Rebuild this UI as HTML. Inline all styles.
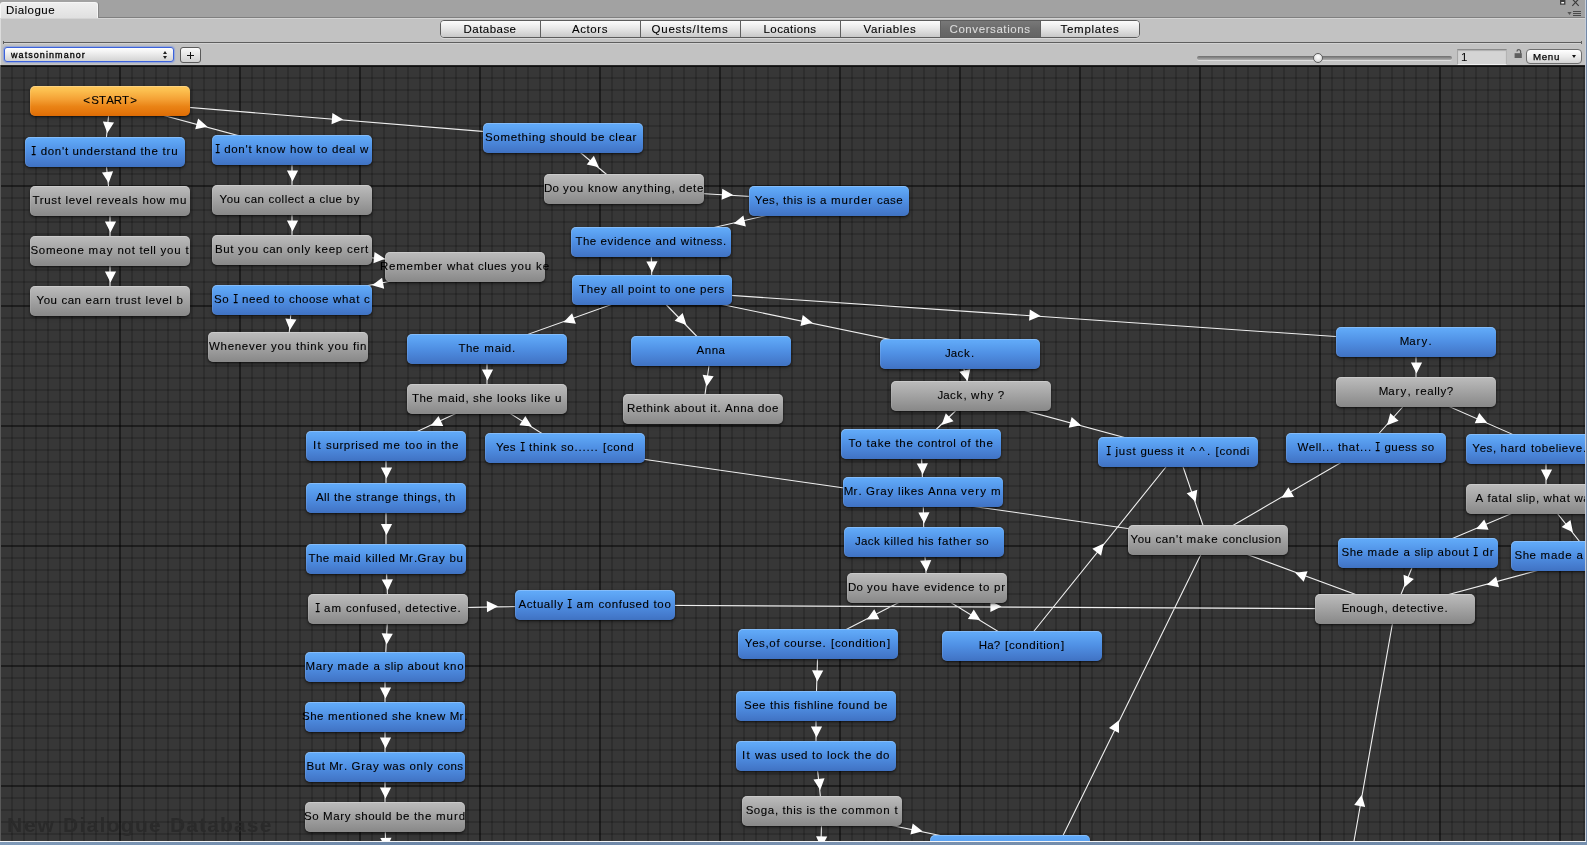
<!DOCTYPE html>
<html lang="en">
<head>
<meta charset="utf-8">
<title>Dialogue</title>
<style>
html,body{margin:0;padding:0}
body{width:1587px;height:845px;overflow:hidden;position:relative;background:#a2a2a2;
 font-family:"Liberation Sans",sans-serif;font-size:11.5px;color:#000}
*{box-sizing:border-box}
.abs{position:absolute}
#root{position:absolute;left:0;top:0;width:1587px;height:845px;overflow:hidden;will-change:transform}

/* ---- dock strip + window tab ---- */
#strip{position:absolute;left:0;top:0;width:1585px;height:18px;background:#a2a2a2;border-bottom:1px solid #808080}
#wtab{position:absolute;left:0;top:2px;width:98px;height:16px;border-radius:3px 3px 0 0;
 background:linear-gradient(#eeeeee,#e0e0e0);border:1px solid #f6f6f6;border-bottom:none;box-shadow:1px 0 0 #868686}
#wtab span{position:absolute;left:5px;top:-1px;line-height:16px;color:#000;-webkit-text-stroke:.1px #000}

/* ---- pane toolbar ---- */
#pane{position:absolute;left:0;top:18px;width:1585px;height:47px;background:#c2c2c2;border-top:1px solid #d4d4d4;border-left:1px solid #dcdcdc}
#sep{position:absolute;left:3px;top:42px;width:1579px;height:1px;background:#5e5e5e}
#sep:before,#sep:after{content:"";position:absolute;top:-1px;width:1px;height:3px;background:#5e5e5e;z-index:2}
#sep:before{left:0}#sep:after{right:0}
#sep2{position:absolute;left:3px;top:43px;width:1579px;height:1px;background:#d2d2d2}

/* top tabs */
#tabs{position:absolute;left:440px;top:20px;width:700px;height:18px;border:1px solid #5c5c5c;border-radius:4px;overflow:hidden;
 background:#e4e4e4;box-shadow:0 1px 0 rgba(255,255,255,.35)}
#tabs div{position:absolute;top:0;width:100px;height:16px;border-left:1px solid #606060;
 background:linear-gradient(#fcfcfc,#e8e8e8 45%,#c9c9c9);text-align:center}
#tabs div:first-child{border-left:none}
#tabs div span{position:absolute;top:1px;line-height:14px;white-space:nowrap;-webkit-text-stroke:.1px currentColor}
#tabs div.sel{background:linear-gradient(#787878,#6b6b6b 50%,#646464);color:#dcdcdc}

/* dropdown */
#dd{position:absolute;left:4px;top:47px;width:170px;height:15px;border:1px solid #3c62dc;border-radius:3px;
 background:linear-gradient(#ffffff,#ececec 45%,#d3d3d3);box-shadow:0 0 1px 1px rgba(90,130,240,.45)}
#dd span{position:absolute;left:6px;top:1px;line-height:13px;font-size:9px;white-space:nowrap;-webkit-text-stroke:.3px #000}
#dd i{position:absolute;left:158px;width:0;height:0;border-left:2px solid transparent;border-right:2px solid transparent}
#dd i.u{top:3px;border-bottom:3px solid #222}
#dd i.d{top:8px;border-top:3px solid #222}
#plus{position:absolute;left:180px;top:47px;width:21px;height:16px;border:1px solid #5a5a5a;border-radius:3px;
 background:linear-gradient(#fafafa,#e6e6e6 50%,#cfcfcf)}
#plus:before,#plus:after{content:"";position:absolute;background:#111}
#plus:before{left:6px;top:7px;width:7px;height:1px}
#plus:after{left:9px;top:4px;width:1px;height:7px}

/* slider etc */
#track{position:absolute;left:1197px;top:56px;width:255px;height:4px;border-radius:2px;
 background:linear-gradient(#6e6e6e,#8c8c8c 50%,#b0b0b0);box-shadow:0 1px 0 rgba(255,255,255,.45)}
#thumb{position:absolute;left:1313px;top:53px;width:10px;height:10px;border-radius:50%;border:1px solid #5c5c5c;
 background:radial-gradient(circle at 50% 35%,#ffffff,#e2e2e2 60%,#c4c4c4)}
#field{position:absolute;left:1457px;top:49px;width:50px;height:16px;background:#d4d4d4;
 border:1px solid;border-color:#8a8a8a #b4b4b4 #efefef #a6a6a6;box-shadow:inset 0 1px 1px rgba(0,0,0,.18)}
#field span{position:absolute;left:3px;top:1px;line-height:12px}
#lock{position:absolute;left:1514px;top:49px;width:9px;height:10px}
#menu{position:absolute;left:1526px;top:49px;width:56px;height:15px;border:1px solid #6e6e6e;border-radius:4px;
 background:linear-gradient(#ffffff,#ececec 50%,#d2d2d2)}
#menu span{position:absolute;left:6px;top:0;line-height:13px;font-size:9.75px;-webkit-text-stroke:.25px #000}
#menu i{position:absolute;left:45px;top:5px;width:0;height:0;border-left:2px solid transparent;border-right:2px solid transparent;border-top:3px solid #111}

/* ---- canvas ---- */
#canvas{position:absolute;left:0;top:65px;width:1585px;height:776px;overflow:hidden;background-color:#373737;
 background-image:
  linear-gradient(to right,rgba(0,0,0,.38) 2px,transparent 2px),
  linear-gradient(to bottom,rgba(0,0,0,.38) 2px,transparent 2px),
  linear-gradient(to right,rgba(0,0,0,.17) 2px,transparent 2px),
  linear-gradient(to bottom,rgba(0,0,0,.17) 2px,transparent 2px);
 background-size:120px 120px,120px 120px,12px 12px,12px 12px;
 background-position:-1px 0,0 0,-1px 0,0 0}
#ctop{position:absolute;left:0;top:0;width:1585px;height:2px;background:linear-gradient(#262626 50%,#0f0f0f 50%)}
#cleft{position:absolute;left:0;top:0;width:1px;height:776px;background:#5a5a5a}
#wm{position:absolute;left:0;top:748px;font-size:21px;font-weight:bold;line-height:24px;white-space:nowrap;color:#2a2a2a}
#wm span{position:absolute;top:0}
svg.links{position:absolute;left:0;top:0}
.ln{fill:none;stroke:#fff;stroke-width:1.1;stroke-opacity:.92}
.ar{fill:#fff;stroke:none}
.n{position:absolute;width:160px;height:30px;border-radius:5px;white-space:nowrap;box-shadow:0 1px 2px rgba(0,0,0,.55),0 2px 4px rgba(0,0,0,.25),inset 0 1px 0 rgba(255,255,255,.22),inset 1px 0 0 rgba(255,255,255,.1)}
.n span{position:absolute;top:0;line-height:28px;white-space:nowrap;-webkit-text-stroke:.1px #000}
.n span.I{font-family:"Liberation Mono",monospace;font-size:12.5px;top:1px;transform:scaleX(.72);-webkit-text-stroke:.25px #000}
.b{background:linear-gradient(#62abfa 0,#5ea6f5 12%,#4f8fe3 50%,#4479cb 88%,#3f72c2 100%)}
.g{background:linear-gradient(#bcbcbc 0,#b6b6b6 12%,#a2a2a2 50%,#8e8e8e 88%,#888888 100%)}
.o{background:linear-gradient(#fec85c 0,#fcc050 14%,#f4a034 45%,#ea8416 68%,#e3740a 90%,#dd6c06 100%)}

/* ---- os window frame ---- */
#fr{position:absolute;left:1585px;top:0;width:2px;height:845px;background:linear-gradient(to right,#c6ced9 0,#c6ced9 1px,#7288a6 1px)}
#fb{position:absolute;left:0;top:841px;width:1587px;height:4px;background:linear-gradient(to right,#7f9ab8,#6a84a5 30%,#7b93b1 55%,#6c86a6 80%,#7690ae)}
#fb:before{content:"";position:absolute;left:0;top:0;width:1586px;height:1px;background:#f4f6f8}
</style>
</head>
<body>
<div id="root">
<div id="strip"></div>
<div id="wtab"><span style="letter-spacing:0.45px">Dialogue</span></div>
<svg class="abs" style="left:1558px;top:0" width="27" height="18" viewBox="0 0 27 18">
 <rect x="2" y="-1" width="5.4" height="5.7" fill="#3e3e3e"/>
 <rect x="3.3" y="2" width="2.8" height="1.5" fill="#f4f4f4"/>
 <path d="M14.3 -1L20.7 5.8M20.7 -1L14.3 5.8" stroke="#3a3a3a" stroke-width="1.1" fill="none"/>
 <path d="M9.4 12h4.2l-2.1 3z" fill="#555"/>
 <path d="M15 11.5h8M15 13.5h8M15 15.5h8" stroke="#4a4a4a" stroke-width="1"/>
</svg>

<div id="pane"></div>
<div id="tabs">
<div style="left:0px"><span style="left:22.5px;letter-spacing:0.47px">Database</span></div>
<div style="left:99px"><span style="left:31px;letter-spacing:0.57px">Actors</span></div>
<div style="left:199px"><span style="left:10.5px;letter-spacing:0.77px">Quests/Items</span></div>
<div style="left:299px"><span style="left:22.5px;letter-spacing:0.42px">Locations</span></div>
<div style="left:399px"><span style="left:22.5px;letter-spacing:0.66px">Variables</span></div>
<div style="left:499px" class="sel"><span style="left:8.5px;letter-spacing:0.58px">Conversations</span></div>
<div style="left:599px"><span style="left:19.5px;letter-spacing:0.73px">Templates</span></div>
</div>
<div id="sep"></div><div id="sep2"></div>

<div id="dd"><span style="letter-spacing:1.07px">watsoninmanor</span><i class="u"></i><i class="d"></i></div>
<div id="plus"></div>

<div id="track"></div><div id="thumb"></div>
<div id="field"><span>1</span></div>
<svg id="lock" viewBox="0 0 9 10"><path d="M6.6 4.4V2.6C6.6 1.2 5.7 0.7 4.8 0.7S3 1.2 3 2.5" fill="none" stroke="#5a5a5a" stroke-width="1.25"/><rect x="0.6" y="4.2" width="7.2" height="4.8" fill="#5f5f5f"/></svg>
<div id="menu"><span style="letter-spacing:0.65px">Menu</span><i></i></div>

<div id="canvas">
<svg class="links" width="1585" height="776" viewBox="0 0 1585 776"><path class="ln" d="M110 36L105 87M110 36L292 85M110 36L563 73M105 87L110 136M110 136L110 186M110 186L110 236M292 85L292 135M292 135L292 185M292 185L465 202M465 202L292 235M292 235L288 282M563 73L624 124M624 124L829 136M829 136L651 177M651 177L652 225M652 225L487 284M652 225L711 286M652 225L960 289M652 225L1416 277M487 284L487 334M487 334L386 381M487 334L565 383M386 381L386 433M386 433L386 494M386 494L388 544M388 544L595 540M388 544L385 602M385 602L385 652M385 652L385 702M385 702L385 752M385 752L386 803M711 286L703 344M960 289L971 331M971 331L921 379M971 331L1178 387M921 379L923 427M923 427L924 477M924 477L927 523M927 523L818 579M927 523L1022 581M818 579L816 641M816 641L816 691M816 691L822 746M822 746L820 806M822 746L1010 785M565 383L1208 475M1178 387L1208 475M1366 383L1208 475M1416 277L1416 327M1416 327L1366 383M1416 327L1546 384M1546 384L1546 434M1546 434L1418 488M1546 434L1591 491M1418 488L1395 544M1591 491L1395 544M1395 544L1208 475M595 540L1395 544M1022 581L1178 387M1025 848L1208 475M1327 929L1395 544"/><path class="ar" d="M107.35 68.12L102.87 56.42L114.02 57.52ZM207.5 61.73L195.23 64.23L198.14 53.41ZM343.12 54.54L331.5 59.21L332.41 48.05ZM108.67 118.02L101.96 107.44L113.1 106.3ZM110.5 167.6L104.9 156.4L116.1 156.4ZM110.5 217.6L104.9 206.4L116.1 206.4ZM292.5 116.6L286.9 105.4L298.1 105.4ZM292.5 166.6L286.9 155.4L298.1 155.4ZM385.12 193.65L373.42 198.13L374.52 186.98ZM372.11 220.23L382.06 212.63L384.16 223.63ZM289.94 265.12L285.31 253.48L296.47 254.43ZM598.88 102.35L586.7 99.46L593.88 90.87ZM733.12 129.89L721.61 134.82L722.26 123.64ZM733.68 158.47L743.34 150.5L745.85 161.41ZM652.14 207.59L646.31 196.51L657.5 196.27ZM563.45 257.19L572.11 248.15L575.89 258.7ZM686.45 259.9L674.64 255.74L682.69 247.95ZM812.56 257.85L800.46 261.06L802.74 250.09ZM1040.62 250.95L1029.06 255.78L1029.82 244.6ZM487.5 315.6L481.9 304.4L493.1 304.4ZM430.73 360.74L438.52 350.94L443.24 361.09ZM531.85 361.59L519.39 360.37L525.35 350.89ZM386.5 413.6L380.9 402.4L392.1 402.4ZM386.5 470.1L380.9 458.9L392.1 458.9ZM387.76 525.57L381.72 514.61L392.91 514.16ZM498.09 541.37L487 547.19L486.78 535.99ZM386.66 579.62L381.64 568.14L392.83 568.72ZM385.5 633.6L379.9 622.4L391.1 622.4ZM385.5 683.6L379.9 672.4L391.1 672.4ZM385.5 733.6L379.9 722.4L391.1 722.4ZM386.13 784.09L380.31 773L391.51 772.78ZM706.59 321.61L702.58 309.75L713.67 311.28ZM967.66 316.26L959.4 306.84L970.24 304ZM941.59 359.93L945.79 348.14L953.54 356.21ZM1081 360.24L1068.73 362.72L1071.65 351.91ZM922.77 409.57L916.71 398.62L927.9 398.15ZM924.13 458.59L918.31 447.5L929.51 447.28ZM926.43 506.55L920.11 495.74L931.29 495.01ZM866.86 554.46L874.26 544.36L879.38 554.32ZM980.39 555.01L967.92 553.96L973.75 544.4ZM817.29 616.61L812.05 605.24L823.25 605.6ZM816.5 672.6L810.9 661.4L822.1 661.4ZM820.21 725.01L813.43 714.48L824.57 713.27ZM821.28 782.61L816.06 771.23L827.25 771.61ZM922.56 766.35L910.46 769.56L912.73 758.59ZM893.1 429.44L881.22 433.4L882.81 422.31ZM1195.6 437.09L1186.69 428.29L1197.29 424.68ZM1281.55 432.75L1288.41 422.28L1294.04 431.96ZM1416.5 308.6L1410.9 297.4L1422.1 297.4ZM1386.98 360.26L1390.26 348.17L1398.61 355.63ZM1487.25 357.69L1474.74 358.32L1479.24 348.07ZM1546.5 415.6L1540.9 404.4L1552.1 404.4ZM1476.11 464.03L1484.26 454.51L1488.61 464.83ZM1572.98 467.37L1561.65 462.05L1570.44 455.11ZM1404.46 522.3L1403.53 509.81L1413.89 514.06ZM1486.76 519.71L1496.11 511.38L1499.03 522.19ZM1295.13 507.68L1307.58 506.31L1303.7 516.82ZM1001.6 541.53L990.37 547.08L990.43 535.88ZM1103.75 478.54L1101.09 490.78L1092.36 483.76ZM1118.96 655.35L1119.05 667.88L1109 662.94ZM1361.66 729.91L1365.22 741.92L1354.19 739.97Z"/></svg>
<div id="wm"><span style="left:7px;letter-spacing:1.77px">New</span><span style="left:63px;letter-spacing:1.29px">Dialogue</span><span style="left:170px;letter-spacing:1.14px">Database</span></div>
<div class="n o" style="left:30px;top:21px"><span style="left:53.14px">&lt;</span> <span style="left:61.16px">S</span> <span style="left:68.98px">T</span> <span style="left:76.16px">A</span> <span style="left:83.84px">R</span> <span style="left:91.98px">T</span> <span style="left:100.14px">&gt;</span></div>
<div class="n b" style="left:25px;top:72px"><span class="I" style="left:5.25px">I</span> <span style="left:15.8px">d</span> <span style="left:22.8px">o</span> <span style="left:29.8px">n</span> <span style="left:36.9px">'</span> <span style="left:39.9px">t</span> <span style="left:47.5px;letter-spacing:0.65px">understand</span> <span style="left:115.5px;letter-spacing:0.67px">the</span> <span style="left:137.5px;letter-spacing:0.86px">tru</span></div>
<div class="n g" style="left:30px;top:121px"><span style="left:2.5px;letter-spacing:0.64px">Trust</span> <span style="left:35.5px;letter-spacing:0.67px">level</span> <span style="left:66.5px;letter-spacing:0.7px">reveals</span> <span style="left:112.5px;letter-spacing:0.63px">how</span> <span style="left:139.5px;letter-spacing:1.01px">mu</span></div>
<div class="n g" style="left:30px;top:171px"><span style="left:0.5px;letter-spacing:0.68px">Someone</span> <span style="left:58.5px;letter-spacing:1.09px">may</span> <span style="left:87.5px;letter-spacing:0.67px">not</span> <span style="left:109.5px;letter-spacing:0.57px">tell</span> <span style="left:130.5px;letter-spacing:0.82px">you</span> <span style="left:155.5px;letter-spacing:0.8px">t</span></div>
<div class="n g" style="left:30px;top:221px"><span style="left:6.5px;letter-spacing:0.53px">You</span> <span style="left:31.5px;letter-spacing:0.48px">can</span> <span style="left:55.5px;letter-spacing:0.74px">earn</span> <span style="left:85.5px;letter-spacing:0.72px">trust</span> <span style="left:115.5px;letter-spacing:0.67px">level</span> <span style="left:146.5px;letter-spacing:0.59px">b</span></div>
<div class="n b" style="left:212px;top:70px"><span class="I" style="left:1.75px">I</span> <span style="left:12.3px">d</span> <span style="left:19.3px">o</span> <span style="left:26.3px">n</span> <span style="left:33.4px">'</span> <span style="left:36.4px">t</span> <span style="left:44px;letter-spacing:0.79px">know</span> <span style="left:78px;letter-spacing:0.63px">how</span> <span style="left:105px;letter-spacing:0.7px">to</span> <span style="left:120px;letter-spacing:0.56px">deal</span> <span style="left:148px;letter-spacing:0.69px">w</span></div>
<div class="n g" style="left:212px;top:120px"><span style="left:7.5px;letter-spacing:0.53px">You</span> <span style="left:32.5px;letter-spacing:0.48px">can</span> <span style="left:56.5px;letter-spacing:0.48px">collect</span> <span style="left:96.5px;letter-spacing:0.59px">a</span> <span style="left:107.5px;letter-spacing:0.47px">clue</span> <span style="left:134.5px;letter-spacing:0.92px">by</span></div>
<div class="n g" style="left:212px;top:170px"><span style="left:3px;letter-spacing:0.58px">But</span> <span style="left:26px;letter-spacing:0.82px">you</span> <span style="left:51px;letter-spacing:0.48px">can</span> <span style="left:75px;letter-spacing:0.72px">only</span> <span style="left:103px;letter-spacing:0.77px">keep</span> <span style="left:135px;letter-spacing:0.71px">cert</span></div>
<div class="n b" style="left:212px;top:220px"><span style="left:2px;letter-spacing:0.46px">So</span> <span class="I" style="left:19.75px">I</span> <span style="left:30px;letter-spacing:0.6px">need</span> <span style="left:62px;letter-spacing:0.7px">to</span> <span style="left:77px;letter-spacing:0.48px">choose</span> <span style="left:121px;letter-spacing:0.68px">what</span> <span style="left:152px;letter-spacing:0.25px">c</span></div>
<div class="n g" style="left:208px;top:267px"><span style="left:1px;letter-spacing:0.7px">Whenever</span> <span style="left:63px;letter-spacing:0.82px">you</span> <span style="left:88px;letter-spacing:0.74px">think</span> <span style="left:120px;letter-spacing:0.82px">you</span> <span style="left:145px;letter-spacing:0.61px">fin</span></div>
<div class="n g" style="left:385px;top:187px"><span style="left:-5px;letter-spacing:0.76px">Remember</span> <span style="left:62px;letter-spacing:0.68px">what</span> <span style="left:93px;letter-spacing:0.43px">clues</span> <span style="left:126px;letter-spacing:0.82px">you</span> <span style="left:151px;letter-spacing:0.92px">ke</span></div>
<div class="n b" style="left:483px;top:58px"><span style="left:2px;letter-spacing:0.67px">Something</span> <span style="left:67px;letter-spacing:0.52px">should</span> <span style="left:108px;letter-spacing:0.6px">be</span> <span style="left:126px;letter-spacing:0.61px">clear</span></div>
<div class="n g" style="left:544px;top:109px"><span style="left:0px;letter-spacing:0.15px">Do</span> <span style="left:19px;letter-spacing:0.82px">you</span> <span style="left:44px;letter-spacing:0.79px">know</span> <span style="left:78.3px">a</span> <span style="left:85.3px">n</span> <span style="left:92.62px">y</span> <span style="left:99.4px">t</span> <span style="left:103.3px">h</span> <span style="left:110.22px">i</span> <span style="left:113.3px">n</span> <span style="left:120.3px">g</span> <span style="left:127.4px">,</span> <span style="left:135px;letter-spacing:0.65px">dete</span></div>
<div class="n b" style="left:749px;top:121px"><span style="left:5.66px">Y</span> <span style="left:13.3px">e</span> <span style="left:20.12px">s</span> <span style="left:26.4px">,</span> <span style="left:34px;letter-spacing:0.52px">this</span> <span style="left:58px;letter-spacing:0.34px">is</span> <span style="left:71px;letter-spacing:0.59px">a</span> <span style="left:82px;letter-spacing:0.93px">murder</span> <span style="left:128px;letter-spacing:0.43px">case</span></div>
<div class="n b" style="left:571px;top:162px"><span style="left:4.5px;letter-spacing:0.39px">The</span> <span style="left:29.5px;letter-spacing:0.62px">evidence</span> <span style="left:84.5px;letter-spacing:0.6px">and</span> <span style="left:109.84px">w</span> <span style="left:118.72px">i</span> <span style="left:121.9px">t</span> <span style="left:125.8px">n</span> <span style="left:132.8px">e</span> <span style="left:139.62px">s</span> <span style="left:145.62px">s</span> <span style="left:151.9px">.</span></div>
<div class="n b" style="left:572px;top:210px"><span style="left:7px;letter-spacing:0.61px">They</span> <span style="left:39px;letter-spacing:0.49px">all</span> <span style="left:56px;letter-spacing:0.61px">point</span> <span style="left:88px;letter-spacing:0.7px">to</span> <span style="left:103px;letter-spacing:0.6px">one</span> <span style="left:128px;letter-spacing:0.66px">pers</span></div>
<div class="n b" style="left:407px;top:269px"><span style="left:51.5px;letter-spacing:0.39px">The</span> <span style="left:77.2px">m</span> <span style="left:87.8px">a</span> <span style="left:94.72px">i</span> <span style="left:97.8px">d</span> <span style="left:104.9px">.</span></div>
<div class="n b" style="left:631px;top:271px"><span style="left:65.5px;letter-spacing:0.54px">Anna</span></div>
<div class="n b" style="left:880px;top:274px"><span style="left:65.12px">J</span> <span style="left:70.8px">a</span> <span style="left:77.62px">c</span> <span style="left:84.12px">k</span> <span style="left:90.9px">.</span></div>
<div class="n b" style="left:1336px;top:262px"><span style="left:63.7px">M</span> <span style="left:73.3px">a</span> <span style="left:80.58px">r</span> <span style="left:85.62px">y</span> <span style="left:92.4px">.</span></div>
<div class="n g" style="left:407px;top:319px"><span style="left:5px;letter-spacing:0.39px">The</span> <span style="left:30.7px">m</span> <span style="left:41.3px">a</span> <span style="left:48.22px">i</span> <span style="left:51.3px">d</span> <span style="left:58.4px">,</span> <span style="left:66px;letter-spacing:0.48px">she</span> <span style="left:90px;letter-spacing:0.63px">looks</span> <span style="left:124px;letter-spacing:0.68px">like</span> <span style="left:148px;letter-spacing:0.59px">u</span></div>
<div class="n b" style="left:306px;top:366px"><span style="left:7px;letter-spacing:1.3px">It</span> <span style="left:20px;letter-spacing:0.63px">surprised</span> <span style="left:77px;letter-spacing:1.01px">me</span> <span style="left:99px;letter-spacing:0.67px">too</span> <span style="left:121px;letter-spacing:0.52px">in</span> <span style="left:135px;letter-spacing:0.67px">the</span></div>
<div class="n b" style="left:485px;top:368px"><span style="left:11px;letter-spacing:0.41px">Yes</span> <span class="I" style="left:33.75px">I</span> <span style="left:44px;letter-spacing:0.74px">think</span> <span style="left:76.12px">s</span> <span style="left:82.3px">o</span> <span style="left:89.4px">.</span> <span style="left:93.4px">.</span> <span style="left:97.4px">.</span> <span style="left:101.4px">.</span> <span style="left:105.4px">.</span> <span style="left:109.4px">.</span> <span style="left:117.9px">[</span> <span style="left:122.12px">c</span> <span style="left:128.3px">o</span> <span style="left:135.3px">n</span> <span style="left:142.3px">d</span></div>
<div class="n b" style="left:306px;top:418px"><span style="left:10px;letter-spacing:0.41px">All</span> <span style="left:28px;letter-spacing:0.67px">the</span> <span style="left:50px;letter-spacing:0.66px">strange</span> <span style="left:97.4px">t</span> <span style="left:101.3px">h</span> <span style="left:108.22px">i</span> <span style="left:111.3px">n</span> <span style="left:118.3px">g</span> <span style="left:125.12px">s</span> <span style="left:131.4px">,</span> <span style="left:139px;letter-spacing:0.7px">th</span></div>
<div class="n b" style="left:306px;top:479px"><span style="left:2.5px;letter-spacing:0.39px">The</span> <span style="left:27.5px;letter-spacing:0.77px">maid</span> <span style="left:59.5px;letter-spacing:0.63px">killed</span> <span style="left:93.2px">M</span> <span style="left:103.08px">r</span> <span style="left:107.9px">.</span> <span style="left:111.52px">G</span> <span style="left:121.08px">r</span> <span style="left:125.8px">a</span> <span style="left:133.12px">y</span> <span style="left:143.5px;letter-spacing:0.6px">bu</span></div>
<div class="n g" style="left:308px;top:529px"><span class="I" style="left:5.75px">I</span> <span style="left:16px;letter-spacing:1.01px">am</span> <span style="left:38.12px">c</span> <span style="left:44.3px">o</span> <span style="left:51.3px">n</span> <span style="left:58.4px">f</span> <span style="left:62.3px">u</span> <span style="left:69.12px">s</span> <span style="left:75.3px">e</span> <span style="left:82.3px">d</span> <span style="left:89.4px">,</span> <span style="left:97.3px">d</span> <span style="left:104.3px">e</span> <span style="left:111.4px">t</span> <span style="left:115.3px">e</span> <span style="left:122.12px">c</span> <span style="left:128.4px">t</span> <span style="left:132.22px">i</span> <span style="left:135.62px">v</span> <span style="left:142.3px">e</span> <span style="left:149.4px">.</span></div>
<div class="n b" style="left:515px;top:525px"><span style="left:3.5px;letter-spacing:0.59px">Actually</span> <span class="I" style="left:51.25px">I</span> <span style="left:61.5px;letter-spacing:1.01px">am</span> <span style="left:83.5px;letter-spacing:0.54px">confused</span> <span style="left:138.5px;letter-spacing:0.67px">too</span></div>
<div class="n b" style="left:305px;top:587px"><span style="left:0.5px;letter-spacing:0.61px">Mary</span> <span style="left:32.5px;letter-spacing:0.8px">made</span> <span style="left:68.5px;letter-spacing:0.59px">a</span> <span style="left:79.5px;letter-spacing:0.43px">slip</span> <span style="left:102.5px;letter-spacing:0.64px">about</span> <span style="left:138.5px;letter-spacing:0.82px">kno</span></div>
<div class="n b" style="left:305px;top:637px"><span style="left:-3px;letter-spacing:0.51px">She</span> <span style="left:23px;letter-spacing:0.7px">mentioned</span> <span style="left:87px;letter-spacing:0.48px">she</span> <span style="left:111px;letter-spacing:0.79px">knew</span> <span style="left:144.7px">M</span> <span style="left:154.58px">r</span> <span style="left:159.4px">.</span></div>
<div class="n b" style="left:305px;top:687px"><span style="left:1.5px;letter-spacing:0.58px">But</span> <span style="left:24.2px">M</span> <span style="left:34.08px">r</span> <span style="left:38.9px">.</span> <span style="left:46.5px;letter-spacing:0.77px">Gray</span> <span style="left:78.5px;letter-spacing:0.52px">was</span> <span style="left:104.5px;letter-spacing:0.72px">only</span> <span style="left:132.5px;letter-spacing:0.43px">cons</span></div>
<div class="n g" style="left:305px;top:737px"><span style="left:-1px;letter-spacing:0.46px">So</span> <span style="left:18px;letter-spacing:0.61px">Mary</span> <span style="left:50px;letter-spacing:0.52px">should</span> <span style="left:91px;letter-spacing:0.6px">be</span> <span style="left:109px;letter-spacing:0.67px">the</span> <span style="left:131px;letter-spacing:0.95px">murd</span></div>
<div class="n g" style="left:623px;top:329px"><span style="left:4px;letter-spacing:0.57px">Rethink</span> <span style="left:51px;letter-spacing:0.64px">about</span> <span style="left:87.22px">i</span> <span style="left:90.4px">t</span> <span style="left:94.4px">.</span> <span style="left:102px;letter-spacing:0.54px">Anna</span> <span style="left:135px;letter-spacing:0.6px">doe</span></div>
<div class="n g" style="left:891px;top:316px"><span style="left:46.62px">J</span> <span style="left:52.3px">a</span> <span style="left:59.12px">c</span> <span style="left:65.62px">k</span> <span style="left:72.4px">,</span> <span style="left:80px;letter-spacing:0.85px">why</span> <span style="left:106.8px">?</span></div>
<div class="n b" style="left:841px;top:364px"><span style="left:7.5px;letter-spacing:0.92px">To</span> <span style="left:25.5px;letter-spacing:0.81px">take</span> <span style="left:54.5px;letter-spacing:0.67px">the</span> <span style="left:76.5px;letter-spacing:0.64px">control</span> <span style="left:119.5px;letter-spacing:0.7px">of</span> <span style="left:134.5px;letter-spacing:0.67px">the</span></div>
<div class="n b" style="left:1098px;top:372px"><span class="I" style="left:7.25px">I</span> <span style="left:17.5px;letter-spacing:0.77px">just</span> <span style="left:42.5px;letter-spacing:0.46px">guess</span> <span style="left:79.5px;letter-spacing:0.62px">it</span> <span style="left:92.3px">^</span> <span style="left:101.3px">^</span> <span style="left:108.9px">.</span> <span style="left:117.4px">[</span> <span style="left:121.62px">c</span> <span style="left:127.8px">o</span> <span style="left:134.8px">n</span> <span style="left:141.8px">d</span> <span style="left:148.72px">i</span></div>
<div class="n b" style="left:843px;top:412px"><span style="left:0.7px">M</span> <span style="left:10.58px">r</span> <span style="left:15.4px">.</span> <span style="left:23px;letter-spacing:0.77px">Gray</span> <span style="left:55px;letter-spacing:0.6px">likes</span> <span style="left:85px;letter-spacing:0.54px">Anna</span> <span style="left:118px;letter-spacing:1.07px">very</span> <span style="left:148px;letter-spacing:1.41px">m</span></div>
<div class="n b" style="left:844px;top:462px"><span style="left:11px;letter-spacing:0.34px">Jack</span> <span style="left:40px;letter-spacing:0.63px">killed</span> <span style="left:74px;letter-spacing:0.43px">his</span> <span style="left:94px;letter-spacing:0.76px">father</span> <span style="left:132px;letter-spacing:0.42px">so</span></div>
<div class="n g" style="left:847px;top:508px"><span style="left:1px;letter-spacing:0.15px">Do</span> <span style="left:20px;letter-spacing:0.82px">you</span> <span style="left:45px;letter-spacing:0.77px">have</span> <span style="left:77px;letter-spacing:0.62px">evidence</span> <span style="left:132px;letter-spacing:0.7px">to</span> <span style="left:147px;letter-spacing:0.88px">pr</span></div>
<div class="n b" style="left:738px;top:564px"><span style="left:6.66px">Y</span> <span style="left:14.3px">e</span> <span style="left:21.12px">s</span> <span style="left:27.4px">,</span> <span style="left:31.3px">o</span> <span style="left:38.4px">f</span> <span style="left:46.12px">c</span> <span style="left:52.3px">o</span> <span style="left:59.3px">u</span> <span style="left:66.58px">r</span> <span style="left:71.12px">s</span> <span style="left:77.3px">e</span> <span style="left:84.4px">.</span> <span style="left:92.9px">[</span> <span style="left:97.12px">c</span> <span style="left:103.3px">o</span> <span style="left:110.3px">n</span> <span style="left:117.3px">d</span> <span style="left:124.22px">i</span> <span style="left:127.4px">t</span> <span style="left:131.22px">i</span> <span style="left:134.3px">o</span> <span style="left:141.3px">n</span> <span style="left:148.9px">]</span></div>
<div class="n b" style="left:942px;top:566px"><span style="left:36.84px">H</span> <span style="left:45.3px">a</span> <span style="left:51.8px">?</span> <span style="left:62.9px">[</span> <span style="left:67.12px">c</span> <span style="left:73.3px">o</span> <span style="left:80.3px">n</span> <span style="left:87.3px">d</span> <span style="left:94.22px">i</span> <span style="left:97.4px">t</span> <span style="left:101.22px">i</span> <span style="left:104.3px">o</span> <span style="left:111.3px">n</span> <span style="left:118.9px">]</span></div>
<div class="n b" style="left:736px;top:626px"><span style="left:8px;letter-spacing:0.51px">See</span> <span style="left:34px;letter-spacing:0.52px">this</span> <span style="left:58px;letter-spacing:0.52px">fishline</span> <span style="left:102px;letter-spacing:0.64px">found</span> <span style="left:138px;letter-spacing:0.6px">be</span></div>
<div class="n b" style="left:736px;top:676px"><span style="left:6px;letter-spacing:1.3px">It</span> <span style="left:19px;letter-spacing:0.52px">was</span> <span style="left:45px;letter-spacing:0.52px">used</span> <span style="left:76px;letter-spacing:0.7px">to</span> <span style="left:91px;letter-spacing:0.64px">lock</span> <span style="left:118px;letter-spacing:0.67px">the</span> <span style="left:140px;letter-spacing:0.6px">do</span></div>
<div class="n g" style="left:742px;top:731px"><span style="left:3.66px">S</span> <span style="left:11.8px">o</span> <span style="left:18.8px">g</span> <span style="left:25.8px">a</span> <span style="left:32.9px">,</span> <span style="left:40.5px;letter-spacing:0.52px">this</span> <span style="left:64.5px;letter-spacing:0.34px">is</span> <span style="left:77.5px;letter-spacing:0.67px">the</span> <span style="left:99.5px;letter-spacing:0.82px">common</span> <span style="left:152.5px;letter-spacing:0.8px">t</span></div>
<div class="n b" style="left:930px;top:770px"></div>
<div class="n g" style="left:1336px;top:312px"><span style="left:42.7px">M</span> <span style="left:52.3px">a</span> <span style="left:59.58px">r</span> <span style="left:64.62px">y</span> <span style="left:71.4px">,</span> <span style="left:79.58px">r</span> <span style="left:84.3px">e</span> <span style="left:91.3px">a</span> <span style="left:98.22px">l</span> <span style="left:101.22px">l</span> <span style="left:104.62px">y</span> <span style="left:110.8px">?</span></div>
<div class="n b" style="left:1286px;top:368px"><span style="left:11.57px">W</span> <span style="left:22.8px">e</span> <span style="left:29.72px">l</span> <span style="left:32.72px">l</span> <span style="left:35.9px">.</span> <span style="left:39.9px">.</span> <span style="left:43.9px">.</span> <span style="left:51.9px">t</span> <span style="left:55.8px">h</span> <span style="left:62.8px">a</span> <span style="left:69.9px">t</span> <span style="left:73.9px">.</span> <span style="left:77.9px">.</span> <span style="left:81.9px">.</span> <span class="I" style="left:88.25px">I</span> <span style="left:98.5px;letter-spacing:0.46px">guess</span> <span style="left:135.5px;letter-spacing:0.42px">so</span></div>
<div class="n b" style="left:1466px;top:369px"><span style="left:6.16px">Y</span> <span style="left:13.8px">e</span> <span style="left:20.62px">s</span> <span style="left:26.9px">,</span> <span style="left:34.5px;letter-spacing:0.74px">hard</span> <span style="left:64.9px">t</span> <span style="left:68.8px">o</span> <span style="left:75.8px">b</span> <span style="left:82.8px">e</span> <span style="left:89.72px">l</span> <span style="left:92.72px">i</span> <span style="left:95.8px">e</span> <span style="left:103.12px">v</span> <span style="left:109.8px">e</span> <span style="left:116.9px">.</span> <span style="left:124.5px;letter-spacing:0.58px">But</span> <span style="left:147.5px;letter-spacing:0.25px">s</span></div>
<div class="n g" style="left:1466px;top:419px"><span style="left:9.5px;letter-spacing:0.33px">A</span> <span style="left:21.5px;letter-spacing:0.65px">fatal</span> <span style="left:50.62px">s</span> <span style="left:56.72px">l</span> <span style="left:59.72px">i</span> <span style="left:62.8px">p</span> <span style="left:69.9px">,</span> <span style="left:77.5px;letter-spacing:0.68px">what</span> <span style="left:108.5px;letter-spacing:0.52px">was</span> <span style="left:134.5px;letter-spacing:0.43px">his</span></div>
<div class="n b" style="left:1338px;top:473px"><span style="left:3.5px;letter-spacing:0.51px">She</span> <span style="left:29.5px;letter-spacing:0.8px">made</span> <span style="left:65.5px;letter-spacing:0.59px">a</span> <span style="left:76.5px;letter-spacing:0.43px">slip</span> <span style="left:99.5px;letter-spacing:0.64px">about</span> <span class="I" style="left:134.25px">I</span> <span style="left:144.5px;letter-spacing:0.88px">dr</span></div>
<div class="n b" style="left:1511px;top:476px"><span style="left:3.5px;letter-spacing:0.51px">She</span> <span style="left:29.5px;letter-spacing:0.8px">made</span> <span style="left:65.5px;letter-spacing:0.59px">a</span> <span style="left:76.5px;letter-spacing:0.43px">slip</span> <span style="left:99.5px;letter-spacing:0.64px">about</span> <span class="I" style="left:134.25px">I</span> <span style="left:144.5px;letter-spacing:0.88px">dr</span></div>
<div class="n g" style="left:1128px;top:460px"><span style="left:2.5px;letter-spacing:0.53px">You</span> <span style="left:27.62px">c</span> <span style="left:33.8px">a</span> <span style="left:40.8px">n</span> <span style="left:47.9px">'</span> <span style="left:50.9px">t</span> <span style="left:58.5px;letter-spacing:0.97px">make</span> <span style="left:94.5px;letter-spacing:0.47px">conclusion</span></div>
<div class="n g" style="left:1315px;top:529px"><span style="left:26.66px">E</span> <span style="left:34.3px">n</span> <span style="left:41.3px">o</span> <span style="left:48.3px">u</span> <span style="left:55.3px">g</span> <span style="left:62.3px">h</span> <span style="left:69.4px">,</span> <span style="left:77.3px">d</span> <span style="left:84.3px">e</span> <span style="left:91.4px">t</span> <span style="left:95.3px">e</span> <span style="left:102.12px">c</span> <span style="left:108.4px">t</span> <span style="left:112.22px">i</span> <span style="left:115.62px">v</span> <span style="left:122.3px">e</span> <span style="left:129.4px">.</span></div>
<div id="ctop"></div><div id="cleft"></div>
</div>

<div id="fr"></div><div id="fb"></div>
</div>
</body>
</html>
